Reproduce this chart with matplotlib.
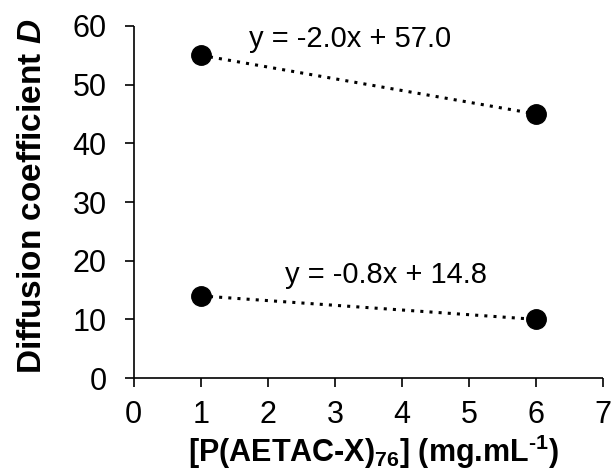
import matplotlib
matplotlib.use("Agg")
import matplotlib.pyplot as plt
import numpy as np

plt.rcParams['font.family'] = ['Liberation Sans', 'DejaVu Sans']
plt.rcParams['mathtext.fontset'] = 'custom'
plt.rcParams['mathtext.rm'] = 'Liberation Sans'
plt.rcParams['mathtext.bf'] = 'Liberation Sans:bold'
plt.rcParams['mathtext.it'] = 'Liberation Sans:italic'
plt.rcParams['mathtext.bfit'] = 'Liberation Sans:bold:italic'

# concentrations and diffusion coefficients
conc = [1, 6]
d_upper = [55, 45]
d_lower = [14, 10]

# linear fit coefficients shown as labels
fit_upper = (-2.0, 57.0)
fit_lower = (-0.8, 14.8)
eq_upper = "y = -2.0x + 57.0"
eq_lower = "y = -0.8x + 14.8"

x_ticks = [0, 1, 2, 3, 4, 5, 6, 7]
y_ticks = [0, 10, 20, 30, 40, 50, 60]

fig = plt.figure(figsize=(6.11, 4.72), dpi=100)
ax = fig.add_axes([0.219, 0.199, 0.768, 0.746])

for ys, (m, b) in [(d_upper, fit_upper), (d_lower, fit_lower)]:
    xs = np.array(conc, dtype=float)
    ax.plot(xs, m * xs + b, color='black', linestyle=(0, (1, 2.0)), linewidth=2.2, zorder=2)
    ax.plot(conc, ys, 'o', color='black', markersize=14, zorder=3)

ax.text(3.22, 57.8, eq_upper, fontsize=21, ha='center', va='center')
ax.text(3.76, 17.6, eq_lower, fontsize=21, ha='center', va='center')

ax.set_xlim(0, 7)
ax.set_ylim(0, 60)
ax.set_xticks(x_ticks)
ax.set_yticks(y_ticks)
ax.tick_params(direction='out', length=6.5, width=1.2, labelsize=22)
ax.tick_params(axis='y', pad=13)
ax.tick_params(axis='x', pad=9)
for s in ['top', 'right']:
    ax.spines[s].set_visible(False)
for s in ['left', 'bottom']:
    ax.spines[s].set_linewidth(1.2)
    ax.spines[s].set_capstyle('butt')

ax.set_xlabel("[P(AETAC-X)$_\\mathbf{76}$] (mg.mL$^\\mathbf{\u20101}$)", fontsize=22, fontweight='bold')
ax.set_ylabel(r"Diffusion coefficient $\mathbfit{D}$", fontsize=24, fontweight='bold')
ax.xaxis.set_label_coords(0.51, -0.155)
ax.yaxis.set_label_coords(-0.183, 0.515)

fig.savefig("out.png", dpi=100)
